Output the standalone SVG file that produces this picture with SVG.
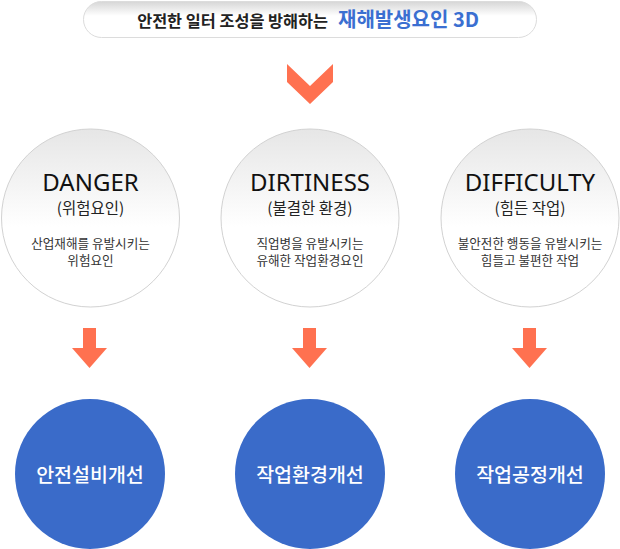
<svg xmlns="http://www.w3.org/2000/svg" width="620" height="549" viewBox="0 0 620 549">
  <defs>
    <linearGradient id="pillGrad" x1="0" y1="0" x2="0" y2="1">
      <stop offset="0" stop-color="#d6d6d6"/>
      <stop offset="0.4" stop-color="#ffffff"/>
      <stop offset="1" stop-color="#ffffff"/>
    </linearGradient>
    <linearGradient id="circGrad" x1="0" y1="0" x2="0" y2="1">
      <stop offset="0" stop-color="#e6e6e6"/>
      <stop offset="0.55" stop-color="#ffffff"/>
      <stop offset="1" stop-color="#ffffff"/>
    </linearGradient>
    <polygon id="downArrow" points="-6.5,0 6.5,0 6.5,20 17.5,20 0,40 -17.5,20 -6.5,20"/>
  </defs>
  <style>
    .kr { font-family: "Noto Sans CJK KR", "Noto Sans", sans-serif; }
    .title { font-family: "Noto Sans", "Noto Sans CJK KR", sans-serif; font-size: 24px; fill: #111; text-anchor: middle; }
    .sub { font-family: "Noto Sans CJK KR", "Noto Sans", sans-serif; font-size: 15.5px; fill: #222; text-anchor: middle; }
    .desc { font-family: "Noto Sans CJK KR", "Noto Sans", sans-serif; font-size: 12.6px; fill: #333; text-anchor: middle; }
    .gray { fill: url(#circGrad); stroke: #d2d2d2; stroke-width: 1; }
    .blue { fill: #3a6bc9; }
    .btext { font-family: "Noto Sans CJK KR", "Noto Sans", sans-serif; font-size: 19.5px; font-weight: 500; fill: #ffffff; text-anchor: middle; }
    .orange { fill: #ff7150; }
  </style>

  <g id="header">
    <rect x="83.5" y="1.5" width="453" height="36" rx="18" ry="18" fill="url(#pillGrad)" stroke="#dcdcdc" stroke-width="1"/>
    <text class="kr" x="328" y="27" font-size="16.3" font-weight="700" fill="#222" text-anchor="end">안전한 일터 조성을 방해하는</text>
    <text class="kr" x="338" y="27" font-size="20" font-weight="700" fill="#3b6fd1">재해발생요인 3D</text>
  </g>

  <g id="connectors">
    <polygon class="orange" points="287,64 310,86 333,64 333,82 310,104 287,82"/>
    <use href="#downArrow" class="orange" x="89.5" y="328"/>
    <use href="#downArrow" class="orange" x="309.5" y="328"/>
    <use href="#downArrow" class="orange" x="529.5" y="328"/>
  </g>

  <g id="danger">
    <circle class="gray" cx="90.5" cy="218" r="89"/>
    <text class="title" x="90.5" y="191">DANGER</text>
    <text class="sub" x="90.5" y="214">(위험요인)</text>
    <text class="desc" x="90.5" y="247.5">산업재해를 유발시키는</text>
    <text class="desc" x="90.5" y="264.5">위험요인</text>
  </g>

  <g id="dirtiness">
    <circle class="gray" cx="310" cy="218" r="89"/>
    <text class="title" x="310" y="191">DIRTINESS</text>
    <text class="sub" x="310" y="214">(불결한 환경)</text>
    <text class="desc" x="310" y="247.5">직업병을 유발시키는</text>
    <text class="desc" x="310" y="264.5">유해한 작업환경요인</text>
  </g>

  <g id="difficulty">
    <circle class="gray" cx="530" cy="218" r="89"/>
    <text class="title" x="530" y="191">DIFFICULTY</text>
    <text class="sub" x="530" y="214">(힘든 작업)</text>
    <text class="desc" x="530" y="247.5">불안전한 행동을 유발시키는</text>
    <text class="desc" x="530" y="264.5">힘들고 불편한 작업</text>
  </g>

  <g id="improve-safety">
    <circle class="blue" cx="90" cy="474" r="75"/>
    <text class="btext" x="90" y="482">안전설비개선</text>
  </g>

  <g id="improve-environment">
    <circle class="blue" cx="310" cy="474" r="75"/>
    <text class="btext" x="310" y="482">작업환경개선</text>
  </g>

  <g id="improve-process">
    <circle class="blue" cx="530" cy="474" r="75"/>
    <text class="btext" x="530" y="482">작업공정개선</text>
  </g>
</svg>
